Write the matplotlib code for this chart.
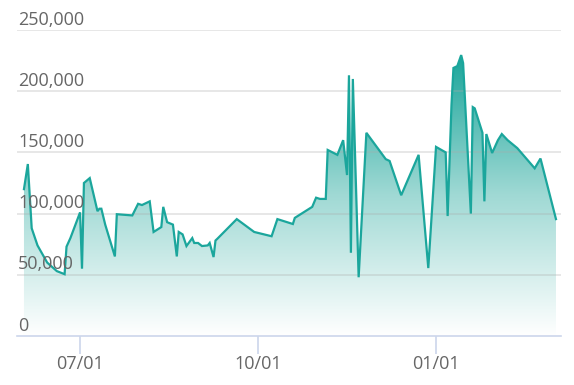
import matplotlib
matplotlib.use("Agg")
import matplotlib.pyplot as plt
import matplotlib.dates as mdates
import numpy as np
from matplotlib.colors import LinearSegmentedColormap
from datetime import datetime, timedelta

dates = ["2023-06-02", "2023-06-04", "2023-06-06", "2023-06-09", "2023-06-14", "2023-06-19",
         "2023-06-23", "2023-06-24", "2023-06-26", "2023-07-01", "2023-07-02", "2023-07-03",
         "2023-07-06", "2023-07-10", "2023-07-11", "2023-07-12", "2023-07-14", "2023-07-19",
         "2023-07-20", "2023-07-28", "2023-07-31", "2023-08-02", "2023-08-04", "2023-08-06",
         "2023-08-08", "2023-08-12", "2023-08-13", "2023-08-15", "2023-08-18", "2023-08-20",
         "2023-08-21", "2023-08-23", "2023-08-25", "2023-08-28", "2023-08-29", "2023-08-31",
         "2023-09-02", "2023-09-05", "2023-09-06", "2023-09-08", "2023-09-09", "2023-09-10",
         "2023-09-20", "2023-09-29", "2023-10-08", "2023-10-11", "2023-10-19", "2023-10-20",
         "2023-10-28", "2023-10-29", "2023-10-31", "2023-11-02", "2023-11-05", "2023-11-06",
         "2023-11-11", "2023-11-14", "2023-11-16", "2023-11-17", "2023-11-18", "2023-11-19",
         "2023-11-22", "2023-11-26", "2023-12-06", "2023-12-08", "2023-12-14", "2023-12-23",
         "2023-12-28", "2024-01-01", "2024-01-06", "2024-01-07", "2024-01-09", "2024-01-10",
         "2024-01-12", "2024-01-14", "2024-01-15", "2024-01-19", "2024-01-20", "2024-01-21",
         "2024-01-25", "2024-01-26", "2024-01-27", "2024-01-30", "2024-02-02", "2024-02-04",
         "2024-02-07", "2024-02-12", "2024-02-21", "2024-02-24", "2024-03-03"]
values = [120000, 140500, 88000, 74000, 60000, 53000,
          50500, 73000, 80000, 101000, 55000, 125000,
          129000, 102000, 104000, 104000, 91000, 65000,
          99500, 98500, 108000, 107000, 108500, 110000,
          85000, 89000, 105500, 93000, 91000, 65000,
          85000, 83000, 73500, 80000, 76000, 76000,
          73500, 74000, 76000, 64500, 78000, 79500,
          95500, 85000, 81500, 95500, 91500, 96500,
          104500, 105500, 113000, 112000, 112000, 152000,
          148000, 160000, 131500, 213000, 68000, 210000,
          48000, 166000, 144500, 143000, 115000, 148000,
          55500, 154500, 150000, 98000, 189000, 219000,
          220500, 229500, 223000, 100000, 187000, 186000,
          166000, 110000, 165000, 149500, 160000, 165000,
          160000, 153500, 137000, 145000, 95500]
y_ticks = [0, 50000, 100000, 150000, 200000, 250000]
y_labels = ["0", "50,000", "100,000", "150,000", "200,000", "250,000"]
x_ticks = ["2023-07-01", "2023-10-01", "2024-01-01"]
x_labels = ["07/01", "10/01", "01/01"]

W, H = 574, 385
fig = plt.figure(figsize=(W / 100, H / 100), dpi=100)
ax = fig.add_axes([17 / W, 1 - 336 / H, (561 - 17) / W, (336 - 30) / H])

x = mdates.date2num([datetime.strptime(d, "%Y-%m-%d") for d in dates])
y = np.array(values, dtype=float)

base = datetime(2023, 7, 1)
x0 = mdates.date2num(base - timedelta(days=32.6))
x1 = mdates.date2num(base + timedelta(days=248.6))
ax.set_xlim(x0, x1)
ax.set_ylim(0, 250000)

line_color = "#1ba69c"
cmap = LinearSegmentedColormap.from_list("g", ["#ffffff", "#9fd9d4", "#17a499"])
poly = ax.fill_between(x, 0, y, color="none", lw=0)
grad = np.linspace(0, 1, 256).reshape(-1, 1)
top = 232000
im = ax.imshow(grad, aspect="auto", cmap=cmap, origin="lower",
               extent=[x0, x1, 0, top], zorder=1, interpolation="bilinear")
im.set_clip_path(poly.get_paths()[0], transform=ax.transData)

for v in y_ticks[1:]:
    ax.axhline(v, color="#aaaaaa", alpha=0.33, lw=1.2, zorder=2)

ax.plot(x, y, color=line_color, lw=1.6, zorder=3, solid_joinstyle="miter")

for s in ["top", "right", "left"]:
    ax.spines[s].set_visible(False)
ax.spines["bottom"].set_color("#ccd6eb")
ax.spines["bottom"].set_linewidth(1.2)
ax.spines["bottom"].set_zorder(4)

ax.set_yticks([])
ax.set_xticks(mdates.date2num([datetime.strptime(d, "%Y-%m-%d") for d in x_ticks]))
ax.set_xticklabels(x_labels)
ax.tick_params(axis="x", length=13, width=1.2, color="#ccd6eb", pad=1,
               labelsize=13, labelcolor="#666666")
for lab in ax.get_xticklabels():
    lab.set_family("Open Sans")

for v, lab in zip(y_ticks, y_labels):
    ax.text(0.002, v + 1200, lab, transform=ax.get_yaxis_transform(),
            ha="left", va="bottom", fontsize=13, color="#666666",
            family="Open Sans", zorder=5, clip_on=False)

fig.savefig("out.png", dpi=100)
